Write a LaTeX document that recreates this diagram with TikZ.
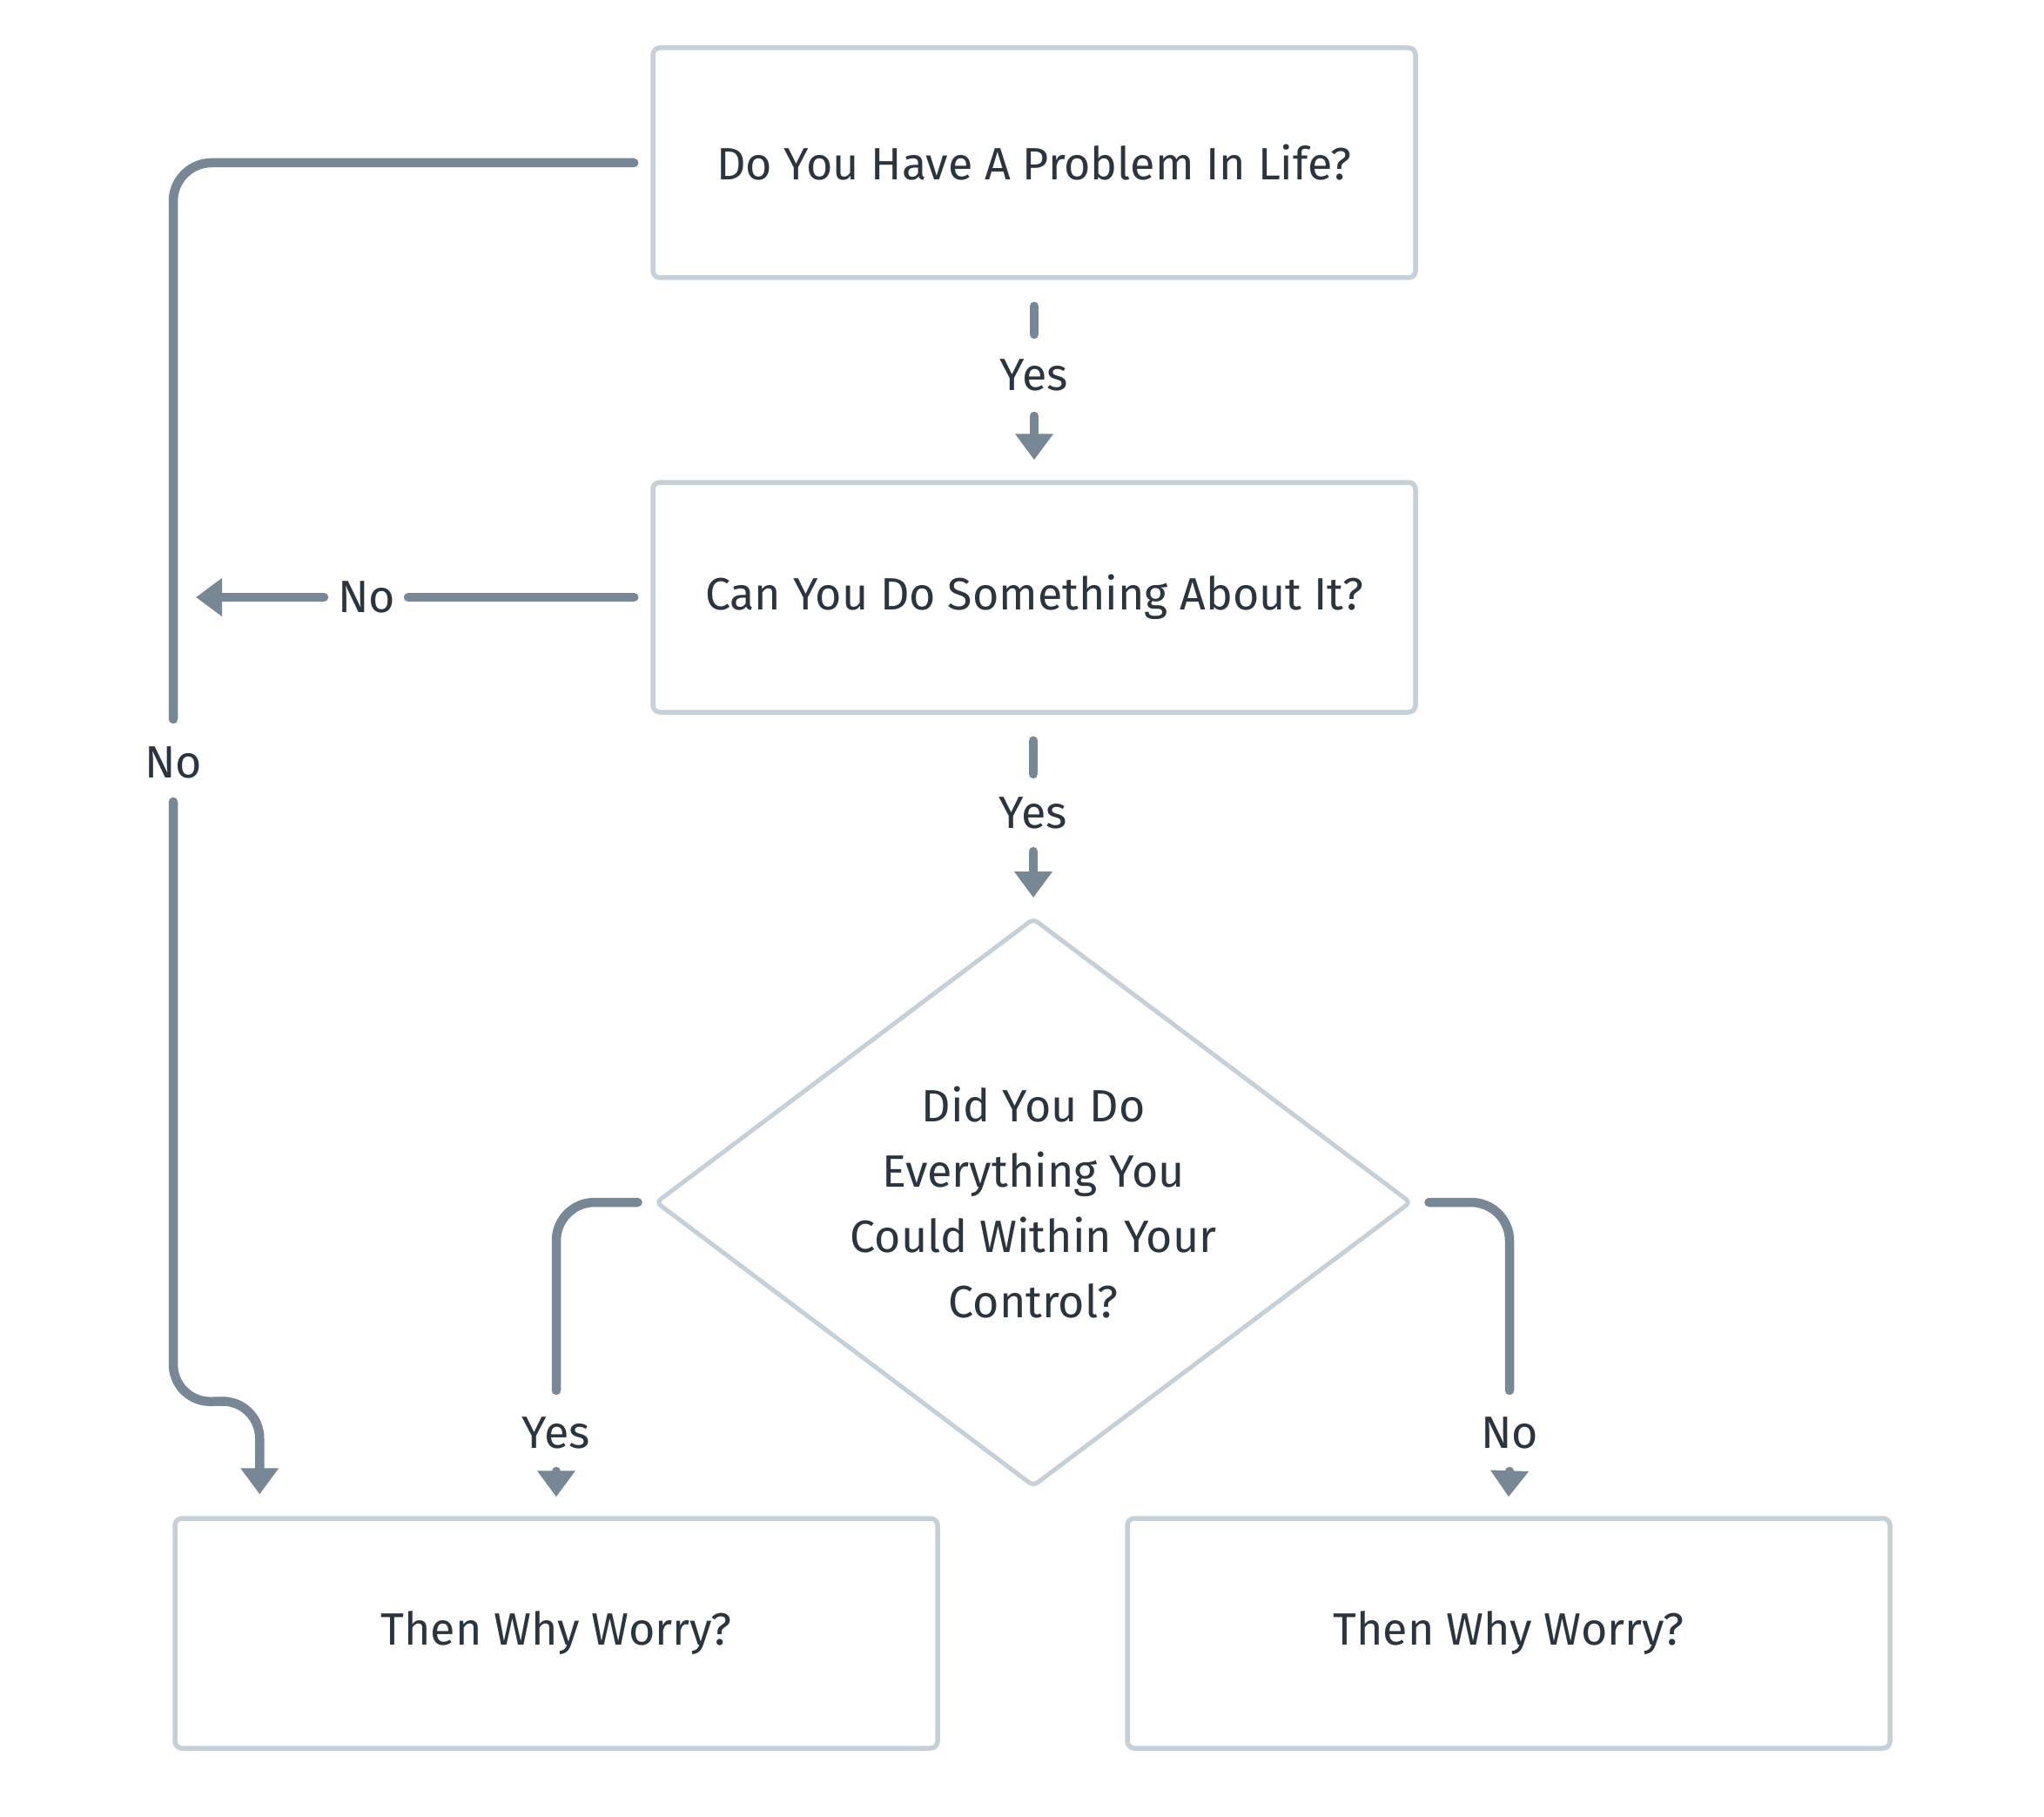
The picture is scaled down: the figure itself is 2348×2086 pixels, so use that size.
\documentclass[tikz,border=0pt]{standalone}
\usepackage{fontspec}
\setmainfont{Fira Sans}
\usetikzlibrary{arrows.meta,calc,shapes.geometric}
\definecolor{conncol}{HTML}{788796}
\definecolor{boxcol}{HTML}{C6D0D9}
\definecolor{txtcol}{HTML}{2B3540}
\begin{document}
\begin{tikzpicture}[x=0.5pt,y=-0.5pt,
  box/.style={draw=boxcol, line width=2.75pt, rounded corners=4pt, minimum width=438pt, minimum height=132pt, inner sep=0pt, text=txtcol, font=\fontsize{26}{30}\selectfont, fill=white},
  dia/.style={diamond, draw=boxcol, line width=2.5pt, rounded corners=3pt, minimum width=434pt, minimum height=326.5pt, inner sep=0pt},
  diatext/.style={text=txtcol, align=center, inner sep=0pt, font=\fontsize{26}{37.5}\selectfont},
  conn/.style={draw=conncol, line width=5.25pt, line cap=round, rounded corners=22pt},
  tip/.style={-{Triangle[width=21pt,length=15pt]}},
  lbl/.style={text=txtcol, font=\fontsize{26}{30}\selectfont, inner sep=0pt}
]
\useasboundingbox[fill=white] (0,0) rectangle (2348,2086);

\node[box] (b1) at (1188,187) {Do You Have A Problem In Life?};
\node[box] (b2) at (1188,686) {Can You Do Something About It?};
\node[dia] (d) at (1187,1381) {};
\node[diatext] (dt) at (d.center) {Did You Do\\Everything You\\Could Within Your\\Control?};
\node[box] (b3) at (639,1876) {Then Why Worry?};
\node[box] (b4) at (1733,1876) {Then Why Worry?};

\node[lbl] (y1) at (1188,431) {Yes};
\node[lbl] (y2) at (1187,934) {Yes};
\node[lbl] (n1) at (421,686) {No};
\node[lbl] (n0) at (199,876) {No};
\node[lbl] (y3) at (639,1646) {Yes};
\node[lbl] (n3) at (1734,1646) {No};

% box1 -> box2
\draw[conn] ($(b1.south)+(0,30)$) -- ($(y1)+(0,-47)$);
\draw[conn,tip] ($(y1)+(0,47)$) -- ($(b2.north)+(0,-23)$);
% box2 -> diamond
\draw[conn] ($(y2 |- b2.south)+(0,30)$) -- ($(y2)+(0,-45)$);
\draw[conn,tip] ($(y2)+(0,44)$) -- ($(d.north)+(0,-21)$);
% box2 -> left (No)
\draw[conn] ($(b2.west)+(-19,0)$) -- ($(n1)+(48,0)$);
\draw[conn,tip] ($(n1)+(-49,0)$) -- ($(n1)+(-196,0)$);
% box1 -> left loop (No) -> box3
\draw[conn] ($(b1.west)+(-19,0)$) -| ($(n0)+(0,-50)$);
\draw[conn,tip] ($(n0)+(0,45)$) -- (n0 |- 0,1611) -- ($(b3.north west)+(100,-133)$) -- ($(b3.north west)+(100,-25)$);
% diamond left (Yes) -> box3
\draw[conn] ($(d.west)+(-18,0)$) -| ($(y3)+(0,-49)$);
\draw[conn,tip] ($(y3)+(0,44)$) -- ($(b3.north)+(0,-22)$);
% diamond right (No) -> box4
\draw[conn] ($(d.east)+(18,0)$) -| ($(n3)+(0,-49)$);
\draw[conn,tip] ($(n3)+(0,44)$) -- ($(b4.north)+(0,-22)$);
\end{tikzpicture}
\end{document}
